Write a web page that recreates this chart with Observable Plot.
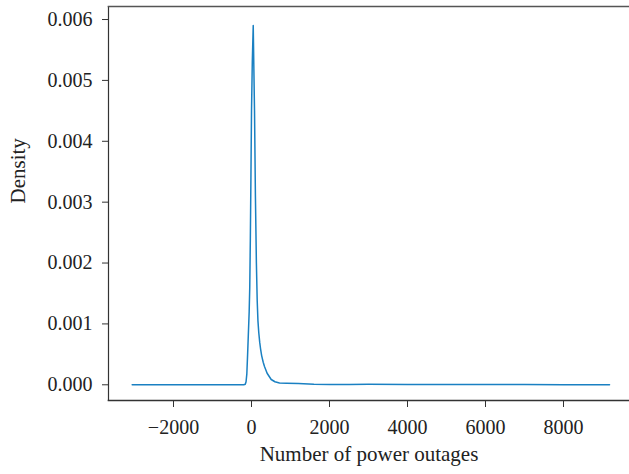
<!DOCTYPE html>
<html>
<head>
<meta charset="utf-8">
<script src="https://cdn.jsdelivr.net/npm/d3@7"></script>
<script src="https://cdn.jsdelivr.net/npm/@observablehq/plot@0.6"></script>
<style>
  body { margin: 0; background: #fff; }
  svg { font-family: "Liberation Serif", "DejaVu Serif", serif; }
</style>
</head>
<body>
<div id="chart"></div>
<script>
const outages = [-3060, -1000, -200, -160, -140, -120, -100, -80, -60, -45, -30, -15, 0, 20, 44, 60, 77, 100, 125, 146, 165, 187, 210, 230, 260, 300, 333, 400, 505, 600, 718, 900, 1200, 1600, 2000, 2500, 3000, 4000, 5000, 6000, 7000, 8000, 9180];
const density = [0, 0, 0, 0.00001, 0.00005, 0.00018, 0.0005, 0.00085, 0.0012, 0.0016, 0.0024, 0.0034, 0.0045, 0.0053, 0.0059, 0.0052, 0.0045, 0.0031, 0.0020, 0.00138, 0.00105, 0.00085, 0.00070, 0.00060, 0.00048, 0.00037, 0.00030, 0.00019, 0.000087, 0.00005, 0.00003, 0.000025, 0.00002, 0.000008, 0.000006, 0.000005, 0.000007, 0.000005, 0.000004, 0.000004, 0.000003, 0.000002, 0];
const xTicks = [-2000, 0, 2000, 4000, 6000, 8000];
const yTicks = [0, 0.001, 0.002, 0.003, 0.004, 0.005, 0.006];

const data = outages.map((x, i) => ({x, y: density[i]}));
const fontSize = 20;

const chart = Plot.plot({
  width: 629,
  height: 474,
  marginLeft: 108,
  marginRight: 0,
  marginTop: 6,
  marginBottom: 74,
  style: {fontSize: fontSize + "px", fontFamily: '"Liberation Serif", "DejaVu Serif", serif', color: "#222"},
  x: {domain: [-3667, 9692], label: null},
  y: {domain: [-0.000258, 0.006214], label: null},
  marks: [
    Plot.axisY({ticks: yTicks, tickFormat: d3.format(".3f"), tickSize: 6, tickPadding: 10, fontSize: fontSize, stroke: "#333"}),
    Plot.axisX({ticks: xTicks, tickFormat: d => (d < 0 ? "\u2212" + Math.abs(d) : String(d)), tickSize: 7, tickPadding: 12, fontSize: fontSize, stroke: "#333"}),
    Plot.frame({anchor: "left", stroke: "#333", strokeWidth: 1.2}),
    Plot.frame({anchor: "top", stroke: "#555", strokeWidth: 1.6}),
    Plot.frame({anchor: "bottom", stroke: "#333", strokeWidth: 1.6}),
    Plot.line(data, {x: "x", y: "y", stroke: "#1a80c2", strokeWidth: 1.5}),
    Plot.text(["Number of power outages"], {frameAnchor: "bottom", dy: 60, fontSize: 21, fill: "#222"}),
    Plot.text(["Density"], {frameAnchor: "left", dx: -90, rotate: -90, fontSize: 21, fill: "#222"})
  ]
});
document.getElementById("chart").appendChild(chart);
</script>
</body>
</html>
